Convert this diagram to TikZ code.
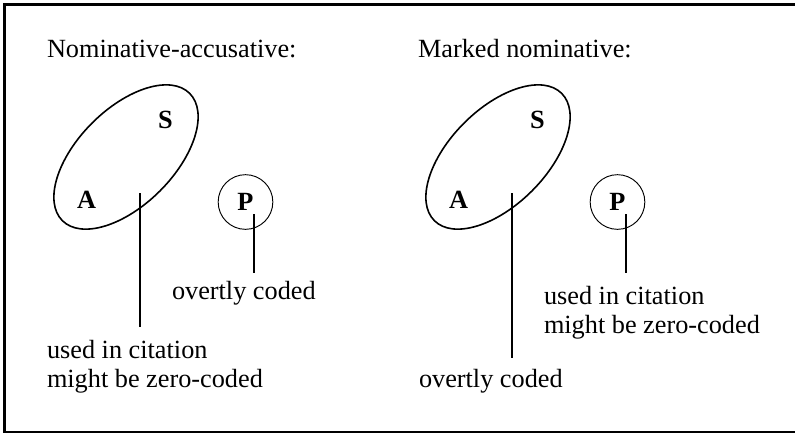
\documentclass[tikz,border=0pt]{standalone}
\usepackage{fontspec}
\setmainfont{Liberation Serif}
\usetikzlibrary{shapes.geometric}

\newcommand{\diagfont}{\fontsize{19.7pt}{21.5pt}\selectfont}
\tikzstyle{every node}=[inner sep=0pt, outer sep=0pt]
\tikzstyle{lbl}=[anchor=base west, align=left]
\tikzstyle{role}=[anchor=base west, font=\diagfont\bfseries]
\tikzstyle{group}=[draw, ellipse, line width=1.2pt, minimum width=135pt, minimum height=72pt, rotate=45]
\tikzstyle{single}=[draw, circle, line width=0.7pt, minimum size=41pt, font=\diagfont\bfseries]
\tikzstyle{stem}=[line width=1.5pt]
\tikzstyle{thickstem}=[line width=2pt]

\begin{document}
\begin{tikzpicture}[x=0.75pt, y=-0.75pt, font=\diagfont]
	\useasboundingbox (0,0) rectangle (795,433);
	%frame
	\draw[line width=2.2pt] (795,4.5) -- (3.4,4.5);
	\draw[line width=2.2pt] (4.5,3.4) -- (4.5,432.5);
	\draw[line width=1.1pt] (4.5,431.8) -- (795,431.8);
	
	%left: nominative-accusative
	\node[lbl] (titleL) at (47,57) {Nominative-accusative:};
	\node[group] (saL) at (126,157) {};
	\node[role] (sL) at (158,128) {S};
	\node[role] (aL) at (77,208) {A};
	\node[single] (pL) at (245.5,202) {P};
	\node[lbl] (ocL) at (172,299) {overtly coded};
	\node[lbl] (ucL) at (47,387) {used in citation\\might be zero-coded};
	\coordinate (saLtop) at (140,193);
	\coordinate (saLfoot) at (140,327);
	\coordinate (pLtop) at (254,214);
	\coordinate (pLfoot) at (254,273);
	\draw[stem] (saLtop) -- (saLfoot);
	\draw[thickstem] (pLtop) -- (pLfoot);
	
	%right: marked nominative
	\node[lbl] (titleR) at (418,57) {Marked nominative:};
	\node[group] (saR) at (498,157) {};
	\node[role] (sR) at (530,128) {S};
	\node[role] (aR) at (449,208) {A};
	\node[single] (pR) at (617.5,202) {P};
	\node[lbl] (ocR) at (419,387) {overtly coded};
	\node[lbl] (ucR) at (544,333) {used in citation\\might be zero-coded};
	\coordinate (saRtop) at (512,193);
	\coordinate (saRfoot) at (512,358);
	\coordinate (pRtop) at (626,214);
	\coordinate (pRfoot) at (626,273);
	\draw[stem] (saRtop) -- (saRfoot);
	\draw[thickstem] (pRtop) -- (pRfoot);
\end{tikzpicture}
\end{document}
